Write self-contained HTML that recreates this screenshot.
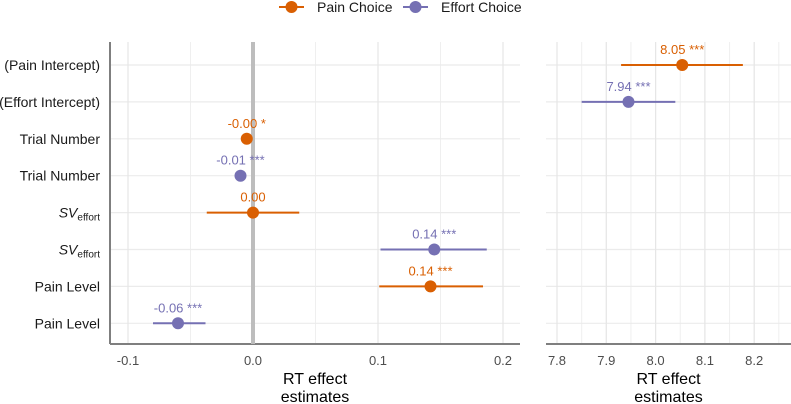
<!DOCTYPE html>
<html><head><meta charset="utf-8"><style>
body{margin:0;background:#fff;}
svg{display:block;font-family:"Liberation Sans",sans-serif;}
</style></head><body>
<svg id="c" width="791" height="404" xmlns="http://www.w3.org/2000/svg"></svg>
<script>
const rowLabels=["(Pain Intercept)","(Effort Intercept)","Trial Number","Trial Number","SV","SV","Pain Level","Pain Level"];
const rowSeries=["pain","effort","pain","effort","pain","effort","pain","effort"];
const estimates=[8.054,7.945,-0.005,-0.01,0.0,0.145,0.142,-0.06];
const ciLow=[7.93,7.85,-0.007,-0.012,-0.037,0.102,0.101,-0.08];
const ciHigh=[8.177,8.04,-0.003,-0.008,0.037,0.187,0.184,-0.038];
const valueLabels=["8.05 ***","7.94 ***","-0.00 *","-0.01 ***","0.00","0.14 ***","0.14 ***","-0.06 ***"];
const leftTicks=[-0.1,0.0,0.1,0.2];
const leftTickLabels=["-0.1","0.0","0.1","0.2"];
const rightTicks=[7.8,7.9,8.0,8.1,8.2];
const rightTickLabels=["7.8","7.9","8.0","8.1","8.2"];

const NS="http://www.w3.org/2000/svg";
const svg=document.getElementById('c');
const col={pain:"#d95f02",effort:"#7570b3"};
function mk(t,a,p){const e=document.createElementNS(NS,t);for(const k in a)e.setAttribute(k,a[k]);(p||svg).appendChild(e);return e;}
const plotTop=42,plotBot=344;
const L={x0:110,x1:520,sx:v=>253+v*1250};
const R={x0:546,x1:791,sx:v=>557+(v-7.8)*493};
const yRow=i=>65+i*36.9;

function panel(P,ticks,tlabels,name,minorStep){
  const g=mk('g',{});
  
  
  const lo=ticks[0]-minorStep*2,hi=ticks[ticks.length-1]+minorStep*2;
  for(let v=lo;v<=hi+1e-9;v+=minorStep){const x=P.sx(v);if(x<P.x0||x>P.x1)continue;
    mk('line',{x1:x,x2:x,y1:plotTop,y2:plotBot,stroke:"#efefef","stroke-width":1},g);}
  for(let i=0;i<8;i++)mk('line',{x1:P.x0,x2:P.x1,y1:yRow(i),y2:yRow(i),stroke:"#ebebeb","stroke-width":1.2},g);
  ticks.forEach((t,i)=>{const x=P.sx(t);
    mk('line',{x1:x,x2:x,y1:plotTop,y2:plotBot,stroke:"#e6e6e6","stroke-width":1.2},g);
    const tx=mk('text',{x:x,y:365,"text-anchor":"middle","font-size":13,fill:"#4d4d4d"},g);tx.textContent=tlabels[i];
    
    
  });
  mk('line',{x1:P.x0,x2:P.x1,y1:plotBot,y2:plotBot,stroke:"#7f7f7f","stroke-width":2},g);
  const t1=mk('text',{x:(P.x0+P.x1)/2,y:384,"text-anchor":"middle","font-size":16,fill:"#000"},g);t1.textContent="RT effect";
  
  
  const t2=mk('text',{x:(P.x0+P.x1)/2,y:402,"text-anchor":"middle","font-size":16,fill:"#000"},g);t2.textContent="estimates";
  
  
  return g;
}
const gl=panel(L,leftTicks,leftTickLabels,'left-panel',0.05);
mk('line',{x1:L.x0,x2:L.x0,y1:plotTop,y2:plotBot,stroke:"#7f7f7f","stroke-width":2},gl);
mk('line',{x1:L.sx(0),x2:L.sx(0),y1:plotTop,y2:plotBot,stroke:"#bdbdbd","stroke-width":4},gl);
const gr=panel(R,rightTicks,rightTickLabels,'right-panel',0.05);

rowLabels.forEach((lab,i)=>{
  const t=mk('text',{x:100,y:yRow(i)+5,"text-anchor":"end","font-size":14,fill:"#1a1a1a"});
  
  
  if(lab==="SV"){
    const a=mk('tspan',{"font-style":"italic"},t);a.textContent="SV";
    const b=mk('tspan',{"font-size":10,dy:3},t);b.textContent="effort";
  } else t.textContent=lab;
});
estimates.forEach((v,i)=>{
  const P=i<2?R:L;const c=col[rowSeries[i]];const y=yRow(i);
  const g=mk('g',{});
  
  
  mk('line',{x1:P.sx(ciLow[i]),x2:P.sx(ciHigh[i]),y1:y,y2:y,stroke:c,"stroke-width":2},g);
  mk('circle',{cx:P.sx(v),cy:y,r:6,fill:c},g);
  const t=mk('text',{x:P.sx(v),y:y-11,"text-anchor":"middle","font-size":13,fill:c},g);t.textContent=valueLabels[i];
});
const lg=mk('g',{});


[["pain","Pain Choice",279],["effort","Effort Choice",403]].forEach(([k,n,x])=>{
  const e=mk('g',{},lg);
  
  
  mk('line',{x1:x,x2:x+25,y1:7,y2:7,stroke:col[k],"stroke-width":2},e);
  mk('circle',{cx:x+12.5,cy:7,r:6,fill:col[k]},e);
  const t=mk('text',{x:x+38,y:12,"font-size":14,fill:"#1a1a1a"},e);t.textContent=n;
});
</script>
</body></html>
